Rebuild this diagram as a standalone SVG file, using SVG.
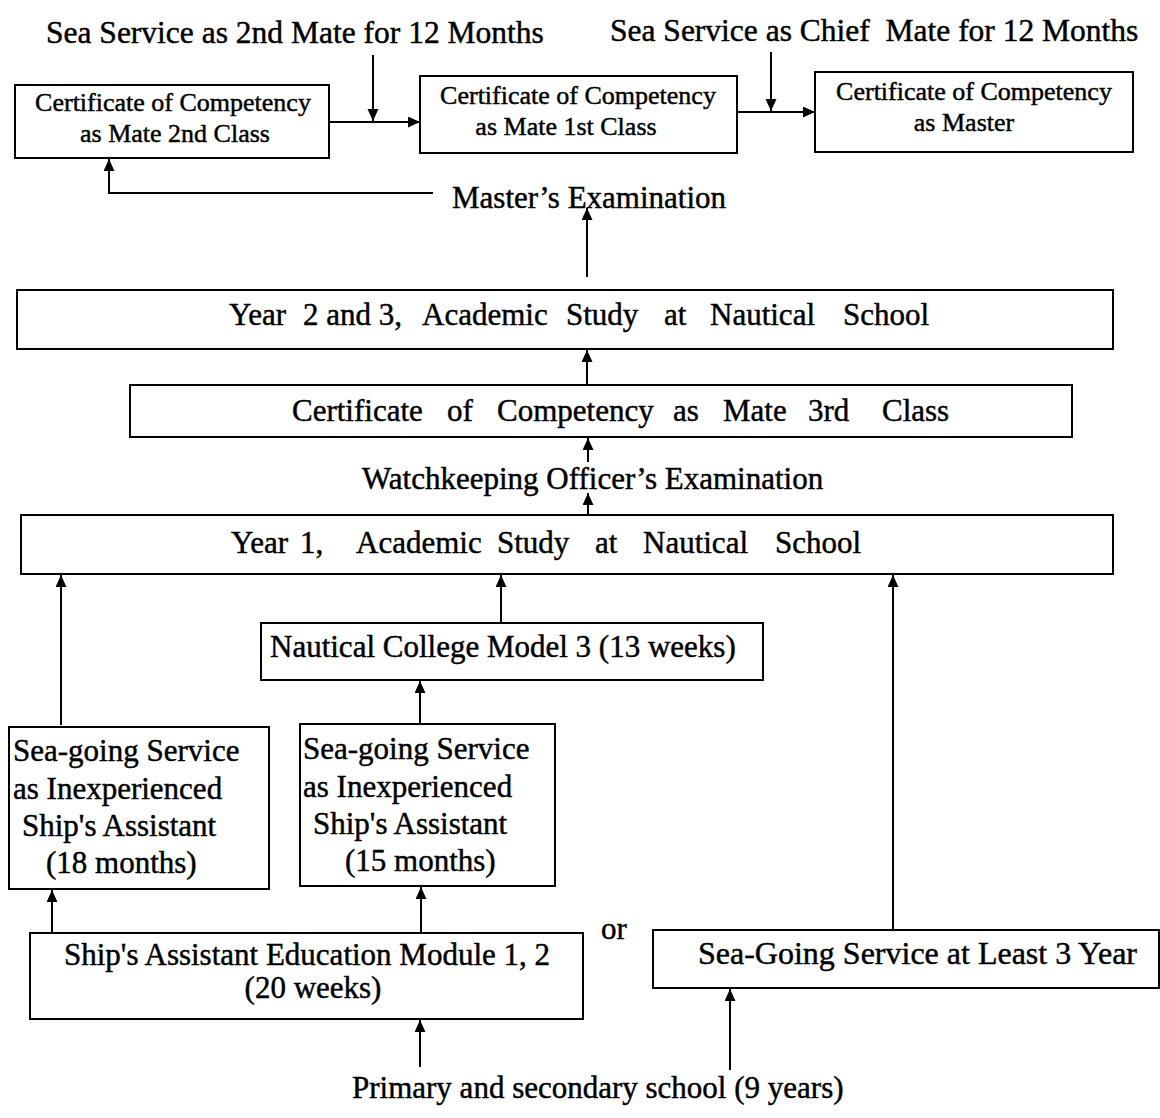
<svg xmlns="http://www.w3.org/2000/svg" width="1160" height="1118" viewBox="0 0 1160 1118">
  <style>
    text { font-family: "Liberation Serif", "Times New Roman", serif; fill: #000; stroke: #000; stroke-width: 0.45; }
    .t31 { font-size: 31px; }
    .t26 { font-size: 26px; }
    .mid { text-anchor: middle; }
    .box { fill: #fff; stroke: #000; stroke-width: 2; }
    .wire { fill: none; stroke: #000; stroke-width: 2; marker-end: url(#head); }
    .pre { white-space: pre; }
  </style>
  <defs>
    <marker id="head" markerUnits="userSpaceOnUse" markerWidth="14" markerHeight="12" refX="12" refY="5.5" orient="auto">
      <path d="M0,0 L12,5.5 L0,11 Z" fill="#000"/>
    </marker>
  </defs>

  <rect width="1160" height="1118" fill="#fff"/>

  <!-- free-standing labels -->
  <g id="label-2nd-mate"><text class="t31" x="46" y="43" style="font-size:31.5px">Sea Service as 2nd Mate for 12 Months</text></g>
  <g id="label-chief-mate"><text class="t31 pre" x="610" y="41" style="font-size:31.5px">Sea Service as Chief  Mate for 12 Months</text></g>
  <g id="label-masters-exam"><text class="t31" x="452" y="208">Master’s Examination</text></g>
  <g id="label-watch-exam"><text class="t31" x="362" y="489">Watchkeeping Officer’s Examination</text></g>
  <g id="label-or"><text class="t31" x="601" y="939">or</text></g>
  <g id="label-school"><text class="t31" x="352" y="1098">Primary and secondary school (9 years)</text></g>

  <!-- connectors -->
  <g id="connectors">
    <path class="wire" d="M373,55 V121"/>
    <path class="wire" d="M329,122 H420"/>
    <path class="wire" d="M771,52 V111"/>
    <path class="wire" d="M737,112 H815"/>
    <path class="wire" d="M433,193 H109 V159"/>
    <path class="wire" d="M587,277 V208"/>
    <path class="wire" d="M587,385 V350"/>
    <path class="wire" d="M588,462 V438"/>
    <path class="wire" d="M588,515 V493"/>
    <path class="wire" d="M61,725 V575"/>
    <path class="wire" d="M501,623 V575"/>
    <path class="wire" d="M893,930 V575"/>
    <path class="wire" d="M420,724 V681"/>
    <path class="wire" d="M52,933 V890"/>
    <path class="wire" d="M421,933 V887"/>
    <path class="wire" d="M420,1067 V1020"/>
    <path class="wire" d="M730,1070 V989"/>
  </g>

  <!-- certificates -->
  <g id="coc-mate-2nd">
    <rect class="box" x="15" y="85" width="314" height="73"/>
    <text class="t26 mid" x="173" y="111">Certificate of Competency</text>
    <text class="t26 mid" x="175" y="142">as Mate 2nd Class</text>
  </g>
  <g id="coc-mate-1st">
    <rect class="box" x="420" y="76" width="317" height="77"/>
    <text class="t26 mid" x="578" y="104">Certificate of Competency</text>
    <text class="t26 mid" x="566" y="135">as Mate 1st Class</text>
  </g>
  <g id="coc-master">
    <rect class="box" x="815" y="72" width="318" height="80"/>
    <text class="t26 mid" x="974" y="100">Certificate of Competency</text>
    <text class="t26 mid" x="964" y="131">as Master</text>
  </g>

  <!-- nautical school -->
  <g id="year-2-3">
    <rect class="box" x="17" y="290" width="1096" height="59"/>
    <text class="t31" y="325"><tspan x="229">Year </tspan><tspan x="303">2 and 3, </tspan><tspan x="422">Academic </tspan><tspan x="566">Study </tspan><tspan x="664">at </tspan><tspan x="710">Nautical </tspan><tspan x="843">School</tspan></text>
  </g>
  <g id="coc-mate-3rd">
    <rect class="box" x="130" y="385" width="942" height="52"/>
    <text class="t31" y="421"><tspan x="292">Certificate </tspan><tspan x="447">of </tspan><tspan x="497">Competency </tspan><tspan x="673">as </tspan><tspan x="723">Mate </tspan><tspan x="808">3rd </tspan><tspan x="882">Class</tspan></text>
  </g>
  <g id="year-1">
    <rect class="box" x="21" y="515" width="1092" height="59"/>
    <text class="t31" y="553"><tspan x="231">Year </tspan><tspan x="300">1, </tspan><tspan x="356">Academic </tspan><tspan x="497">Study </tspan><tspan x="595">at </tspan><tspan x="643">Nautical </tspan><tspan x="775">School</tspan></text>
  </g>
  <g id="nautical-college">
    <rect class="box" x="261" y="623" width="502" height="57"/>
    <text class="t31" x="270" y="657">Nautical College Model 3 (13 weeks)</text>
  </g>

  <!-- sea-going service -->
  <g id="sea-service-18">
    <rect class="box" x="9" y="727" width="260" height="162"/>
    <text class="t31" x="13" y="761">Sea-going Service</text>
    <text class="t31" x="13" y="799">as Inexperienced</text>
    <text class="t31" x="22" y="836">Ship's Assistant</text>
    <text class="t31" x="46" y="873">(18 months)</text>
  </g>
  <g id="sea-service-15">
    <rect class="box" x="300" y="724" width="255" height="162"/>
    <text class="t31" x="303" y="759">Sea-going Service</text>
    <text class="t31" x="303" y="797">as Inexperienced</text>
    <text class="t31" x="313" y="834">Ship's Assistant</text>
    <text class="t31" x="345" y="871">(15 months)</text>
  </g>
  <g id="assistant-education">
    <rect class="box" x="30" y="933" width="553" height="86"/>
    <text class="t31 mid" x="307" y="965">Ship's Assistant Education Module 1, 2</text>
    <text class="t31 mid" x="313" y="998">(20 weeks)</text>
  </g>
  <g id="sea-service-3y">
    <rect class="box" x="653" y="930" width="506" height="58"/>
    <text class="t31" x="698" y="964" style="font-size:32px">Sea-Going Service at Least 3 Year</text>
  </g>
</svg>
